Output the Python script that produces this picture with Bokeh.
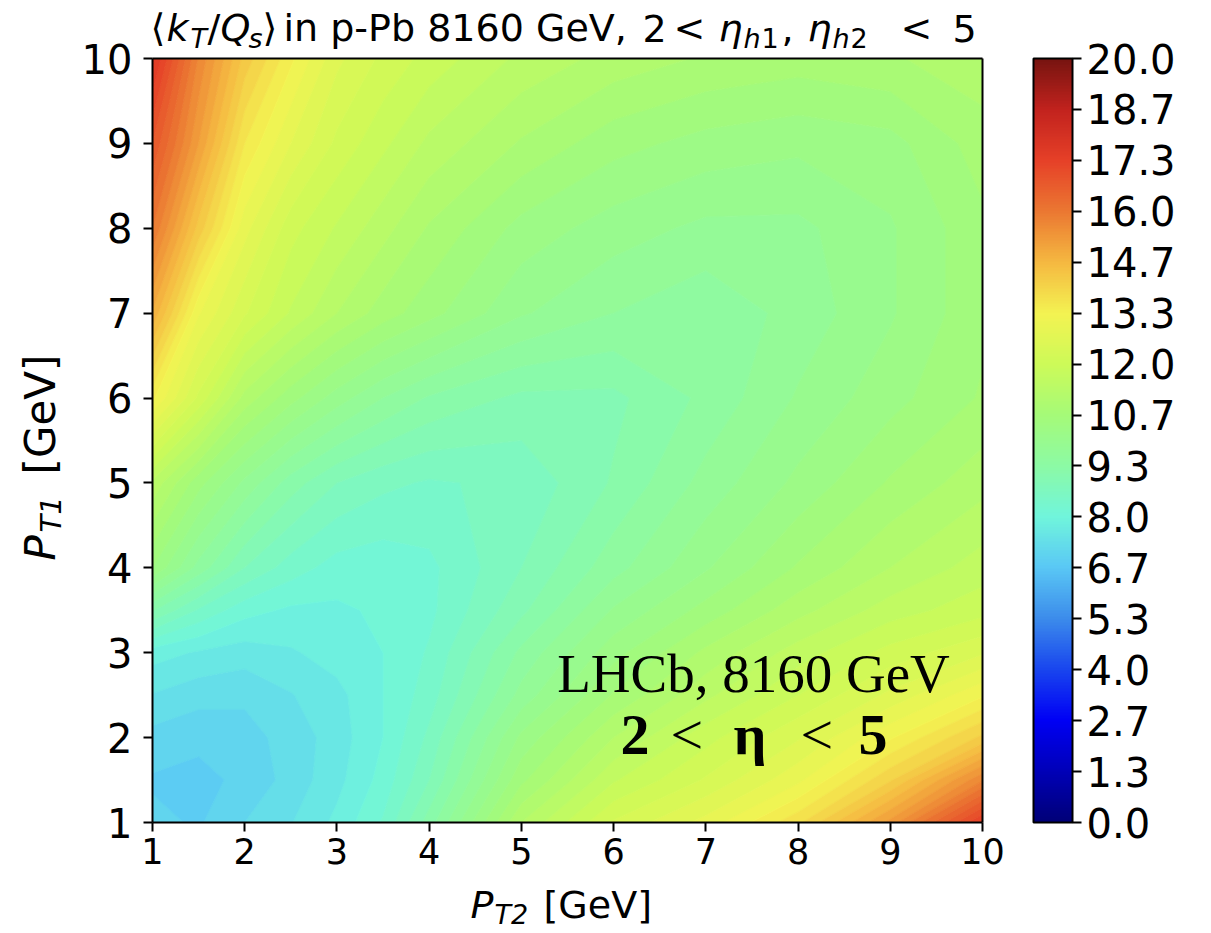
import numpy as np
from bokeh.plotting import figure
from bokeh.models import Label, ColorBar, LinearColorMapper, FixedTicker, LinearAxis, Range1d
from bokeh.embed import file_html
from bokeh.resources import INLINE

# ---------------- data ----------------
# grid of P_T values (GeV), same for P_T2 (x) and P_T1 (y)
pt_grid = [1.0, 1.5, 2.0, 2.5, 3.0, 3.5, 4.0, 5.0, 6.0, 7.0, 8.0, 9.0, 10.0]

# <kT/Qs>; one row per P_T1 value (ascending), columns follow the P_T2 grid
kt_row_pt1_1_0 = [7.0, 6.9, 7.2, 7.45, 7.8, 8.3, 9.2, 11.2, 12.3, 12.9, 13.8, 15.3, 17.4]
kt_row_pt1_1_5 = [6.9, 6.85, 7.0, 7.3, 7.65, 8.1, 8.8, 10.6, 11.7, 12.3, 13.0, 14.1, 15.7]
kt_row_pt1_2_0 = [7.1, 7.0, 7.1, 7.3, 7.6, 8.0, 8.6, 10.2, 11.2, 11.9, 12.5, 13.3, 14.2]
kt_row_pt1_2_5 = [7.45, 7.3, 7.25, 7.45, 7.65, 8.0, 8.4, 9.7, 10.7, 11.4, 12.0, 12.6, 13.3]
kt_row_pt1_3_0 = [7.85, 7.7, 7.6, 7.7, 7.85, 8.0, 8.3, 9.4, 10.3, 11.0, 11.6, 12.1, 12.5]
kt_row_pt1_3_5 = [9.1, 8.5, 8.1, 7.95, 7.95, 8.05, 8.2, 9.0, 9.9, 10.5, 11.1, 11.6, 11.9]
kt_row_pt1_4_0 = [10.4, 9.5, 8.8, 8.4, 8.15, 8.1, 8.2, 8.8, 9.5, 10.1, 10.7, 11.2, 11.6]
kt_row_pt1_5_0 = [11.4, 10.5, 9.8, 9.2, 8.8, 8.6, 8.5, 8.6, 9.1, 9.7, 10.2, 10.7, 11.1]
kt_row_pt1_6_0 = [13.4, 12.2, 11.1, 10.5, 10.0, 9.6, 9.3, 9.0, 9.0, 9.4, 9.9, 10.3, 10.7]
kt_row_pt1_7_0 = [14.9, 13.1, 12.3, 11.7, 11.2, 10.8, 10.5, 9.9, 9.6, 9.4, 9.7, 10.1, 10.6]
kt_row_pt1_8_0 = [16.0, 14.3, 12.9, 12.1, 11.7, 11.3, 10.9, 10.3, 10.0, 9.8, 9.8, 10.1, 10.6]
kt_row_pt1_9_0 = [16.8, 15.2, 13.6, 12.8, 12.2, 11.8, 11.4, 10.9, 10.5, 10.3, 10.2, 10.3, 10.8]
kt_row_pt1_10_0 = [17.7, 15.7, 14.3, 13.4, 12.6, 12.2, 11.9, 11.4, 11.1, 10.9, 10.8, 10.9, 11.1]

axis_ticks = [1, 2, 3, 4, 5, 6, 7, 8, 9, 10]
cbar_tick_values = [0.0, 1.3333, 2.6667, 4.0, 5.3333, 6.6667, 8.0, 9.3333,
                    10.6667, 12.0, 13.3333, 14.6667, 16.0, 17.3333, 18.6667, 20.0]
cbar_tick_labels = ["0.0", "1.3", "2.7", "4.0", "5.3", "6.7", "8.0", "9.3",
                    "10.7", "12.0", "13.3", "14.7", "16.0", "17.3", "18.7", "20.0"]

z = np.array([kt_row_pt1_1_0, kt_row_pt1_1_5, kt_row_pt1_2_0, kt_row_pt1_2_5,
              kt_row_pt1_3_0, kt_row_pt1_3_5, kt_row_pt1_4_0, kt_row_pt1_5_0,
              kt_row_pt1_6_0, kt_row_pt1_7_0, kt_row_pt1_8_0, kt_row_pt1_9_0,
              kt_row_pt1_10_0])

# ---------------- colour map (jet-like, soft) ----------------
cmap_anchors = [
    (0.0, (0, 0, 120)), (1.333, (0, 0, 185)), (2.667, (0, 0, 245)),
    (4.0, (25, 70, 238)), (5.333, (60, 140, 235)), (6.667, (90, 200, 245)),
    (8.0, (112, 245, 220)), (9.333, (140, 250, 165)), (10.667, (165, 250, 120)),
    (12.0, (205, 250, 88)), (13.333, (243, 243, 82)), (14.667, (245, 185, 65)),
    (16.0, (235, 120, 50)), (17.333, (230, 65, 40)), (18.667, (195, 35, 30)),
    (20.0, (120, 20, 16)),
]


def color_at(v):
    vs = [a[0] for a in cmap_anchors]
    rgb = [int(round(np.interp(v, vs, [a[1][k] for a in cmap_anchors]))) for k in range(3)]
    return "#%02x%02x%02x" % tuple(rgb)


levels = np.linspace(0, 20, 76)
band_colors = [color_at(0.5 * (levels[i] + levels[i + 1])) for i in range(len(levels) - 1)]
line_colors = [color_at(l) for l in levels]

# ---------------- layout: frame = whole canvas, data box placed inside ----------------
W, H = 1211, 933
FL, FR, FT, FB = 152, 982, 58, 822          # pixel box of the data area
XPX = (FR - FL) / 9.0
YPX = (FB - FT) / 9.0
x_rng = Range1d(1 - FL / XPX, 10 + (W - FR) / XPX)
y_rng = Range1d(1 - (H - FB) / YPX, 10 + FT / YPX)

p = figure(width=W, height=H, x_range=x_rng, y_range=y_rng,
           x_axis_location=None, y_axis_location=None,
           output_backend="svg", toolbar_location=None, min_border=0)
p.background_fill_color = "white"
p.border_fill_color = "white"
p.outline_line_color = None
p.grid.visible = False

p.contour(x=pt_grid, y=pt_grid, z=z, levels=levels,
          fill_color=band_colors, line_color=line_colors, line_width=1.2)


def style_axis(ax, font_size, standoff, with_ticks=True):
    ax.axis_line_width = 2
    ax.axis_line_color = "black"
    ax.major_tick_line_width = 2
    ax.major_tick_out = 9
    ax.major_tick_in = 0
    ax.minor_tick_line_color = None
    ax.major_label_text_font = "DejaVu Sans"
    ax.major_label_text_color = "black"
    ax.major_label_text_font_size = font_size
    ax.major_label_standoff = standoff
    if not with_ticks:
        ax.major_tick_line_color = None
        ax.major_label_text_alpha = 0


xa = LinearAxis(fixed_location=1, bounds=(1, 10), ticker=FixedTicker(ticks=axis_ticks))
style_axis(xa, "35px", 6)
p.add_layout(xa, "below")
ya = LinearAxis(fixed_location=1, bounds=(1, 10), ticker=FixedTicker(ticks=axis_ticks))
style_axis(ya, "40px", 11)
p.add_layout(ya, "left")
xt = LinearAxis(fixed_location=10, bounds=(1, 10), ticker=FixedTicker(ticks=[]))
style_axis(xt, "10px", 0, with_ticks=False)
p.add_layout(xt, "above")
yr = LinearAxis(fixed_location=10, bounds=(1, 10), ticker=FixedTicker(ticks=[]))
style_axis(yr, "10px", 0, with_ticks=False)
p.add_layout(yr, "right")

mapper = LinearColorMapper(palette=[color_at(v) for v in np.linspace(0, 20, 256)], low=0, high=20)
cb = ColorBar(color_mapper=mapper, ticker=FixedTicker(ticks=cbar_tick_values),
              major_label_overrides={v: s for v, s in zip(cbar_tick_values, cbar_tick_labels)},
              width=39, height=FB - FT, padding=0, margin=0, location=(1033, H - FB),
              major_tick_out=9, major_tick_in=0, major_tick_line_color="black",
              major_tick_line_width=2, bar_line_color="black", bar_line_width=2,
              minor_tick_line_color=None,
              major_label_text_font="DejaVu Sans", major_label_text_font_size="40px",
              major_label_text_color="black",
              label_standoff=5, border_line_color=None, background_fill_color=None)
p.add_layout(cb)


def put(text, X, Y, size, style="normal", font="DejaVu Sans", align="left", angle=0):
    # X, Y: pixel position of the text baseline start, from the picture's top-left
    shift = 0.27 * size
    if angle == 0:
        Y = Y - shift
    else:
        X = X - shift
    p.add_layout(Label(x=X, y=H - Y, x_units="screen", y_units="screen",
                       text=text, text_font=font, text_font_size="%dpx" % size,
                       text_font_style=style, text_align=align,
                       text_baseline="alphabetic", text_color="black",
                       angle=angle, angle_units="deg"))


# title pieces
TB, TS, SS, SD = 38, 38, 27, 7
put("\u27e8", 150, TB, TS)
put("k", 166, TB, TS, "italic")
put("T", 190, TB + SD, SS, "italic")
put("/", 207, TB, TS)
put("Q", 220, TB, TS, "italic")
put("s", 248, TB + SD, SS, "italic")
put("\u27e9", 262, TB, TS)
put("in p-Pb 8160 GeV,", 283, TB, TS)
put("2", 642, TB, TS)
put("<", 673, TB, TS)
put("\u03b7", 718, TB, TS, "italic")
put("h", 743, TB + SD, SS, "italic")
put("1", 761, TB + SD, SS)
put(",", 781, TB, TS)
put("\u03b7", 807, TB, TS, "italic")
put("h", 832, TB + SD, SS, "italic")
put("2", 850, TB + SD, SS)
put("<", 900, TB, TS)
put("5", 952, TB, TS)

# x axis label
put("P", 470, 915, 38, "italic")
put("T2", 494, 921, 27, "italic")
put("[GeV]", 543, 915, 38)

# y axis label (rotated)
put("P", 51, 560, 42, "italic", angle=90)
put("T1", 58, 532, 29, "italic", angle=90)
put("[GeV]", 51, 474, 42, angle=90)

# in-plot annotation
put("LHCb, 8160 GeV", 753, 688, 55, font="Liberation Serif", align="center")
put("2", 620, 750, 58, "bold", font="Liberation Serif")
put("<", 670, 750, 58, font="Liberation Serif")
put("\u03b7", 733, 750, 58, "bold", font="Liberation Serif")
put("<", 800, 750, 58, font="Liberation Serif")
put("5", 858, 750, 58, "bold", font="Liberation Serif")

open("out.html", "w").write(file_html(p, INLINE))
